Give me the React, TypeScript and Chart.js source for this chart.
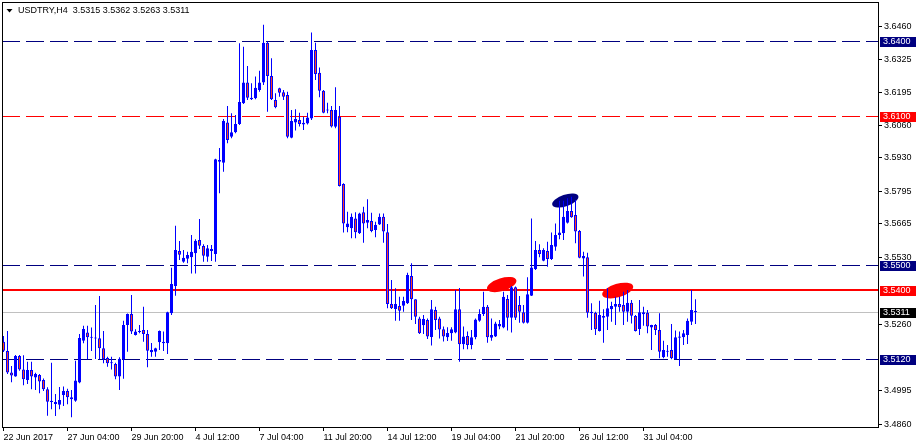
import React, { useEffect, useRef } from 'react';
import { Chart, registerables } from 'chart.js';

Chart.register(...registerables);

const chartTitle = 'USDTRY,H4  3.5315 3.5362 3.5263 3.5311';

const timeLabels = [
  '22 Jun 2017', '27 Jun 04:00', '29 Jun 20:00', '4 Jul 12:00', '7 Jul 04:00', '11 Jul 20:00',
  '14 Jul 12:00', '19 Jul 04:00', '21 Jul 20:00', '26 Jul 12:00', '31 Jul 04:00',
];
const timeLabelBars = [0, 16, 32, 48, 64, 80, 96, 112, 128, 144, 160];

const priceTicks = [3.6460, 3.6325, 3.6195, 3.6060, 3.5930, 3.5795, 3.5665, 3.5530, 3.5260, 3.4995, 3.4860];

const opens = [
  3.5191, 3.5154, 3.5068, 3.5051, 3.5134, 3.5080, 3.5037, 3.5078, 3.5047, 3.5058,
  3.5037, 3.5000, 3.4954, 3.4941, 3.4938, 3.4977, 3.4993, 3.4960, 3.4954, 3.5027,
  3.5195, 3.5228, 3.5209, 3.5206, 3.5205, 3.5165, 3.5126, 3.5107, 3.5102, 3.5051,
  3.5121, 3.5259, 3.5303, 3.5218, 3.5232, 3.5238, 3.5222, 3.5149, 3.5151, 3.5189,
  3.5191, 3.5185, 3.5306, 3.5415, 3.5556, 3.5513, 3.5525, 3.5531, 3.5547, 3.5600,
  3.5576, 3.5533, 3.5564, 3.5544, 3.5922, 3.5911, 3.6073, 3.6015, 3.6033, 3.6067,
  3.6150, 3.6233, 3.6166, 3.6170, 3.6203, 3.6233, 3.6393, 3.6259, 3.6163, 3.6210,
  3.6194, 3.6183, 3.6011, 3.6073, 3.6083, 3.6065, 3.6069, 3.6089, 3.6364, 3.6273,
  3.6200, 3.6123, 3.6123, 3.6055, 3.6096, 3.5825, 3.5651, 3.5647, 3.5687, 3.5627,
  3.5712, 3.5670, 3.5677, 3.5640, 3.5663, 3.5694, 3.5631, 3.5343, 3.5323, 3.5335,
  3.5336, 3.5346, 3.5455, 3.5362, 3.5285, 3.5257, 3.5279, 3.5210, 3.5319, 3.5285,
  3.5241, 3.5209, 3.5225, 3.5228, 3.5322, 3.5181, 3.5214, 3.5178, 3.5209, 3.5276,
  3.5303, 3.5332, 3.5207, 3.5212, 3.5252, 3.5248, 3.5363, 3.5288, 3.5410, 3.5339,
  3.5310, 3.5268, 3.5376, 3.5484, 3.5560, 3.5517, 3.5556, 3.5524, 3.5573, 3.5620,
  3.5627, 3.5670, 3.5717, 3.5701, 3.5636, 3.5526, 3.5531, 3.5306, 3.5308, 3.5234,
  3.5288, 3.5292, 3.5322, 3.5332, 3.5343, 3.5339, 3.5312, 3.5348, 3.5295, 3.5242,
  3.5302, 3.5308, 3.5248, 3.5259, 3.5238, 3.5129, 3.5151, 3.5158, 3.5121, 3.5207,
  3.5209, 3.5218, 3.5272, 3.5315,
];
const highs = [
  3.5214, 3.5234, 3.5094, 3.5138, 3.5138, 3.5137, 3.5111, 3.5111, 3.5067, 3.5062,
  3.5043, 3.5008, 3.5107, 3.4981, 3.5009, 3.5011, 3.5002, 3.4997, 3.5115, 3.5222,
  3.5255, 3.5255, 3.5248, 3.5339, 3.5375, 3.5234, 3.5131, 3.5131, 3.5107, 3.5129,
  3.5276, 3.5305, 3.5379, 3.5241, 3.5259, 3.5332, 3.5238, 3.5186, 3.5167, 3.5236,
  3.5232, 3.5312, 3.5489, 3.5657, 3.5596, 3.5560, 3.5553, 3.5620, 3.5603, 3.5685,
  3.5583, 3.5580, 3.5580, 3.5927, 3.5970, 3.6087, 3.6139, 3.6110, 3.6103, 3.6391,
  3.6377, 3.6300, 3.6230, 3.6257, 3.6281, 3.6466, 3.6398, 3.6331, 3.6190, 3.6212,
  3.6203, 3.6196, 3.6123, 3.6126, 3.6112, 3.6096, 3.6112, 3.6434, 3.6393, 3.6294,
  3.6203, 3.6152, 3.6139, 3.6214, 3.6139, 3.5828, 3.5714, 3.5707, 3.5712, 3.5710,
  3.5734, 3.5764, 3.5710, 3.5674, 3.5707, 3.5707, 3.5665, 3.5439, 3.5406, 3.5372,
  3.5372, 3.5469, 3.5507, 3.5362, 3.5292, 3.5299, 3.5285, 3.5359, 3.5332, 3.5292,
  3.5252, 3.5249, 3.5249, 3.5399, 3.5407, 3.5252, 3.5232, 3.5238, 3.5285, 3.5322,
  3.5392, 3.5339, 3.5285, 3.5272, 3.5279, 3.5392, 3.5379, 3.5415, 3.5413, 3.5375,
  3.5339, 3.5450, 3.5687, 3.5596, 3.5583, 3.5567, 3.5593, 3.5630, 3.5667, 3.5758,
  3.5758, 3.5768, 3.5774, 3.5761, 3.5640, 3.5553, 3.5549, 3.5346, 3.5312, 3.5356,
  3.5322, 3.5406, 3.5352, 3.5372, 3.5372, 3.5392, 3.5399, 3.5359, 3.5299, 3.5359,
  3.5332, 3.5319, 3.5260, 3.5263, 3.5306, 3.5195, 3.5178, 3.5263, 3.5236, 3.5232,
  3.5238, 3.5285, 3.5399, 3.5362,
];
const lows = [
  3.5150, 3.5062, 3.5028, 3.5050, 3.5075, 3.5016, 3.5021, 3.5000, 3.4997, 3.4984,
  3.4993, 3.4894, 3.4920, 3.4893, 3.4920, 3.4933, 3.4940, 3.4888, 3.4950, 3.5024,
  3.5185, 3.5121, 3.5154, 3.5122, 3.5121, 3.5105, 3.5091, 3.5080, 3.5040, 3.4997,
  3.5042, 3.5151, 3.5222, 3.5216, 3.5225, 3.5191, 3.5089, 3.5131, 3.5131, 3.5158,
  3.5154, 3.5142, 3.5299, 3.5376, 3.5520, 3.5509, 3.5507, 3.5466, 3.5466, 3.5564,
  3.5513, 3.5513, 3.5516, 3.5513, 3.5788, 3.5875, 3.5989, 3.6009, 3.6029, 3.6063,
  3.6147, 3.6163, 3.6163, 3.6166, 3.6196, 3.6223, 3.6116, 3.6163, 3.6130, 3.6176,
  3.6163, 3.6009, 3.6009, 3.6040, 3.6056, 3.6042, 3.6065, 3.6083, 3.6243, 3.6174,
  3.6110, 3.6110, 3.6052, 3.6049, 3.5815, 3.5630, 3.5631, 3.5607, 3.5607, 3.5624,
  3.5589, 3.5647, 3.5631, 3.5611, 3.5661, 3.5589, 3.5326, 3.5323, 3.5276, 3.5276,
  3.5312, 3.5343, 3.5279, 3.5263, 3.5222, 3.5222, 3.5202, 3.5176, 3.5238, 3.5204,
  3.5192, 3.5194, 3.5195, 3.5225, 3.5111, 3.5161, 3.5161, 3.5161, 3.5201, 3.5272,
  3.5295, 3.5187, 3.5195, 3.5210, 3.5241, 3.5245, 3.5236, 3.5228, 3.5279, 3.5268,
  3.5265, 3.5265, 3.5375, 3.5480, 3.5531, 3.5515, 3.5493, 3.5520, 3.5557, 3.5603,
  3.5600, 3.5667, 3.5690, 3.5587, 3.5527, 3.5453, 3.5288, 3.5238, 3.5218, 3.5232,
  3.5187, 3.5238, 3.5272, 3.5259, 3.5312, 3.5259, 3.5272, 3.5265, 3.5232, 3.5218,
  3.5255, 3.5225, 3.5158, 3.5218, 3.5125, 3.5125, 3.5131, 3.5121, 3.5121, 3.5094,
  3.5178, 3.5182, 3.5259, 3.5263,
];
const closes = [
  3.5155, 3.5068, 3.5055, 3.5134, 3.5080, 3.5040, 3.5078, 3.5051, 3.5062, 3.5031,
  3.5000, 3.4950, 3.4949, 3.4949, 3.4957, 3.4993, 3.4968, 3.4968, 3.5035, 3.5206,
  3.5242, 3.5209, 3.5207, 3.5204, 3.5165, 3.5121, 3.5105, 3.5105, 3.5051, 3.5123,
  3.5259, 3.5303, 3.5232, 3.5232, 3.5230, 3.5222, 3.5155, 3.5158, 3.5165, 3.5234,
  3.5185, 3.5310, 3.5423, 3.5560, 3.5541, 3.5529, 3.5540, 3.5553, 3.5597, 3.5577,
  3.5537, 3.5567, 3.5556, 3.5925, 3.5915, 3.6079, 3.6002, 3.6033, 3.6067, 3.6155,
  3.6233, 3.6172, 3.6172, 3.6212, 3.6233, 3.6393, 3.6259, 3.6166, 3.6134, 3.6192,
  3.6176, 3.6015, 3.6079, 3.6087, 3.6067, 3.6072, 3.6093, 3.6364, 3.6268, 3.6200,
  3.6112, 3.6121, 3.6056, 3.6123, 3.5817, 3.5667, 3.5667, 3.5694, 3.5631, 3.5707,
  3.5667, 3.5681, 3.5636, 3.5661, 3.5694, 3.5634, 3.5343, 3.5326, 3.5343, 3.5316,
  3.5355, 3.5460, 3.5362, 3.5292, 3.5225, 3.5283, 3.5212, 3.5322, 3.5279, 3.5240,
  3.5212, 3.5226, 3.5241, 3.5322, 3.5181, 3.5212, 3.5178, 3.5209, 3.5281, 3.5303,
  3.5332, 3.5209, 3.5218, 3.5265, 3.5263, 3.5372, 3.5288, 3.5410, 3.5288, 3.5312,
  3.5268, 3.5382, 3.5490, 3.5560, 3.5544, 3.5560, 3.5524, 3.5580, 3.5620, 3.5630,
  3.5694, 3.5717, 3.5692, 3.5634, 3.5529, 3.5536, 3.5308, 3.5312, 3.5241, 3.5299,
  3.5295, 3.5326, 3.5335, 3.5343, 3.5330, 3.5312, 3.5348, 3.5296, 3.5234, 3.5310,
  3.5310, 3.5252, 3.5259, 3.5238, 3.5151, 3.5158, 3.5155, 3.5125, 3.5209, 3.5212,
  3.5225, 3.5276, 3.5319, 3.5311,
];

const navyLevels = [3.6400, 3.5500, 3.5120];
const redDashedLevels = [3.6100];
const redSolidLevels = [3.5400];
const bidPrice = 3.5311;

// ellipse objects: two anchor points (bar index, price) on the long axis
const navyEllipses = [{ from: [137.2, 3.5741], to: [143.7, 3.5777] }];
const redEllipses = [
  { from: [120.9, 3.5403], to: [128.2, 3.5439] },
  { from: [149.7, 3.5379], to: [157.4, 3.5415] },
];

const FONT = '"Liberation Sans", Arial, sans-serif';
const BLUE = '#0000FF';
const BEAR_FILL = '#FF4020';
const NAVY = '#000080';
const RED = '#FF0000';

const overlayPlugin = {
  id: 'mt4Overlay',
  beforeDatasetsDraw(chart: any) {
    const { ctx, chartArea: a, scales } = chart;
    const xs = scales.x;
    const ys = scales.y;
    ctx.save();
    ctx.beginPath();
    ctx.rect(a.left, a.top, a.right - a.left, a.bottom - a.top);
    ctx.clip();

    const drawEllipse = (e: any, color: string) => {
      const x1 = xs.getPixelForValue(e.from[0]);
      const y1 = ys.getPixelForValue(e.from[1]);
      const x2 = xs.getPixelForValue(e.to[0]);
      const y2 = ys.getPixelForValue(e.to[1]);
      const cx = (x1 + x2) / 2;
      const cy = (y1 + y2) / 2;
      const rx = Math.hypot(x2 - x1, y2 - y1) / 2;
      const ry = rx * 0.42;
      const ang = Math.atan2(y2 - y1, x2 - x1);
      ctx.beginPath();
      ctx.ellipse(cx, cy, rx, ry, ang, 0, Math.PI * 2);
      ctx.fillStyle = color;
      ctx.fill();
    };
    navyEllipses.forEach((e) => drawEllipse(e, NAVY));
    redEllipses.forEach((e) => drawEllipse(e, RED));

    const hline = (v: number, color: string, width: number, dash: number[]) => {
      const py = ys.getPixelForValue(v);
      const yy = width % 2 === 1 ? Math.round(py) + 0.5 : Math.round(py);
      ctx.beginPath();
      ctx.setLineDash(dash);
      ctx.lineDashOffset = 0;
      ctx.strokeStyle = color;
      ctx.lineWidth = width;
      ctx.moveTo(a.left, yy);
      ctx.lineTo(a.right, yy);
      ctx.stroke();
    };
    hline(bidPrice, '#C0C0C0', 1, []);
    navyLevels.forEach((v) => hline(v, NAVY, 1, [18, 6]));
    redDashedLevels.forEach((v) => hline(v, RED, 1, [18, 6]));
    redSolidLevels.forEach((v) => hline(v, RED, 2, []));
    ctx.restore();
  },
  afterDraw(chart: any) {
    const { ctx, chartArea: a, scales } = chart;
    const ys = scales.y;
    ctx.save();
    ctx.strokeStyle = '#000';
    ctx.lineWidth = 1;
    ctx.setLineDash([]);
    ctx.strokeRect(a.left + 0.5, a.top + 0.5, a.right - a.left, a.bottom - a.top);

    const tag = (v: number, bg: string) => {
      const py = Math.round(ys.getPixelForValue(v));
      ctx.fillStyle = bg;
      ctx.fillRect(a.right + 2, py - 4, 36, 10);
      ctx.fillStyle = '#FFFFFF';
      ctx.font = `9px ${FONT}`;
      ctx.textBaseline = 'middle';
      ctx.textAlign = 'left';
      ctx.fillText(v.toFixed(4), a.right + 5, py + 1);
    };
    navyLevels.forEach((v) => tag(v, NAVY));
    redDashedLevels.forEach((v) => tag(v, RED));
    redSolidLevels.forEach((v) => tag(v, RED));
    tag(bidPrice, '#000000');

    ctx.fillStyle = '#000';
    ctx.beginPath();
    ctx.moveTo(6.5, 9);
    ctx.lineTo(12.5, 9);
    ctx.lineTo(9.5, 12.5);
    ctx.closePath();
    ctx.fill();
    ctx.font = `9px ${FONT}`;
    ctx.textBaseline = 'middle';
    ctx.textAlign = 'left';
    ctx.fillText(chartTitle, 18, 11);
    ctx.restore();
  },
};

export default function App() {
  const canvasRef = useRef<HTMLCanvasElement | null>(null);

  useEffect(() => {
    if (!canvasRef.current) return;
    const idx = opens.map((_, i) => i);
    const wickData = idx.map((i) => ({ x: i, y: [lows[i], highs[i]] }));
    const bodyData = idx.map((i) => ({
      x: i,
      y: [Math.min(opens[i], closes[i]), Math.max(opens[i], closes[i])],
    }));
    const bodyColors = idx.map((i) => (closes[i] >= opens[i] ? BLUE : BEAR_FILL));

    const chart = new Chart(canvasRef.current, {
      type: 'bar',
      data: {
        datasets: [
          {
            label: 'wick',
            data: wickData as any,
            backgroundColor: BLUE,
            borderWidth: 0,
            barThickness: 1,
            maxBarThickness: 1,
            inflateAmount: 0,
            grouped: false,
            order: 2,
          } as any,
          {
            label: 'body',
            data: bodyData as any,
            backgroundColor: bodyColors,
            borderColor: BLUE,
            borderWidth: 1,
            borderSkipped: false,
            barThickness: 3,
            maxBarThickness: 3,
            minBarLength: 1,
            inflateAmount: 0,
            grouped: false,
            order: 1,
          } as any,
        ],
      },
      options: {
        animation: false,
        responsive: true,
        maintainAspectRatio: false,
        devicePixelRatio: 1,
        layout: { padding: { top: 2, left: 2, right: 0, bottom: 0 } },
        plugins: { legend: { display: false }, tooltip: { enabled: false } },
        scales: {
          x: {
            type: 'linear',
            position: 'bottom',
            offset: false,
            min: -0.375,
            max: 218.625,
            afterBuildTicks: (s: any) => {
              s.ticks = timeLabelBars.map((v) => ({ value: v }));
            },
            afterFit: (s: any) => {
              s.height = 21;
              s.paddingLeft = 0;
              s.paddingRight = 0;
            },
            ticks: {
              autoSkip: false,
              maxRotation: 0,
              minRotation: 0,
              align: 'start',
              padding: 1,
              color: '#000',
              font: { family: FONT, size: 9 },
              callback: (_v: any, i: number) => timeLabels[i],
            },
            grid: { display: true, offset: false, drawOnChartArea: false, drawTicks: true, tickLength: 4, color: '#000' },
            border: { display: false },
          },
          y: {
            type: 'linear',
            position: 'right',
            min: 3.484846,
            max: 3.655696,
            afterBuildTicks: (s: any) => {
              s.ticks = priceTicks.map((v) => ({ value: v }));
            },
            afterFit: (s: any) => {
              s.width = 40;
              s.paddingTop = 0;
              s.paddingBottom = 0;
            },
            ticks: {
              padding: 2,
              color: '#000',
              font: { family: FONT, size: 9 },
              callback: (v: any) => Number(v).toFixed(4),
            },
            grid: { display: true, drawOnChartArea: false, drawTicks: true, tickLength: 4, color: '#000' },
            border: { display: false },
          },
        },
      } as any,
      plugins: [overlayPlugin],
    });
    return () => chart.destroy();
  }, []);

  return (
    <div style={{ position: 'fixed', left: 0, top: 0, width: 918, height: 448, background: '#fff' }}>
      <canvas ref={canvasRef} />
    </div>
  );
}
